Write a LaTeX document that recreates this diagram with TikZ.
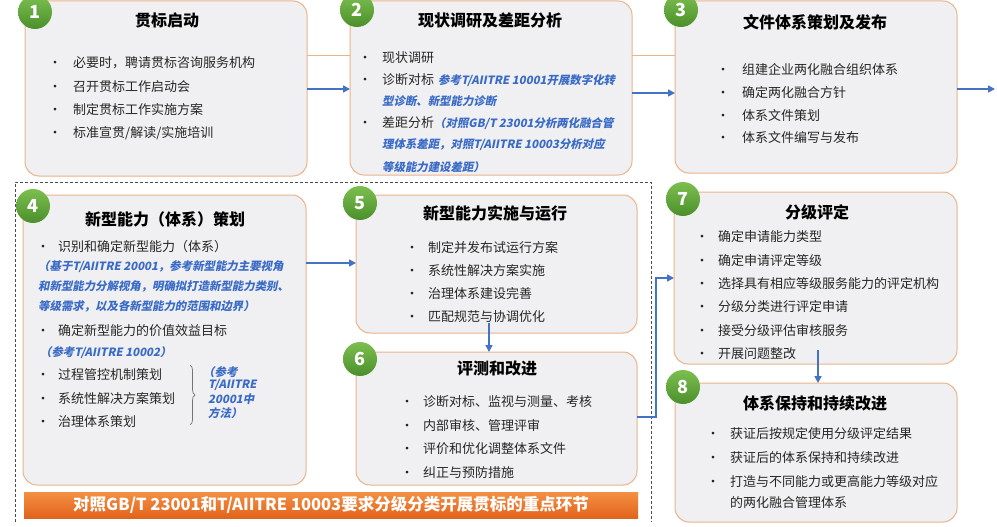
\documentclass[tikz,border=0pt]{standalone}
\usepackage{fontspec}
\setmainfont{Noto Sans CJK SC}
\newfontfamily\slfont{Noto Sans CJK SC}[FakeSlant=0.2]
\usetikzlibrary{arrows.meta,decorations.pathreplacing}
\definecolor{boxfill}{HTML}{F0F0F2}
\definecolor{boxline}{HTML}{E9B48A}
\definecolor{arrblue}{HTML}{4472C4}
\definecolor{txtblue}{HTML}{3A6BC6}
\definecolor{txtc}{HTML}{262626}
\definecolor{gtop}{HTML}{7CBF4F}
\definecolor{gbot}{HTML}{4B8F2C}
\definecolor{otop}{HTML}{F39043}
\definecolor{obot}{HTML}{E2631B}
\newcommand\bul[1][17pt]{\makebox[#1][l]{\makebox[0pt][c]{•}}}
\newcommand\bl[1]{{\slfont\bfseries\color{txtblue}\fontsize{11.4}{12}\selectfont #1}}
\begin{document}
\begin{tikzpicture}[x=1pt,y=-1pt,
  box/.style={draw=boxline,fill=boxfill,line width=1pt,rounded corners=14pt,inner sep=0pt,outer sep=0pt},
  circ/.style={circle,minimum size=34pt,inner sep=0pt,top color=gtop,bottom color=gbot,draw=none,text=white,font=\bfseries\fontsize{18}{18}\selectfont},
  ttl/.style={inner sep=0pt,text=black,font=\bfseries\fontsize{16}{16}\selectfont},
  txt/.style={anchor=west,inner sep=0pt,text=txtc,font=\fontsize{13}{13}\selectfont},
  arr/.style={draw=arrblue,line width=1.6pt,-{Triangle[length=7pt,width=7pt]}},
  oline/.style={draw=boxline,line width=1pt},
  dline/.style={draw=black!70,line width=0.8pt,dash pattern=on 3pt off 2pt}]
\useasboundingbox (0,0) rectangle (997,527);
\fill[white] (0,0) rectangle (997,527);
% dashed group
\draw[dline] (15,522) -- (15,182) -- (651,182) -- (651,522);
% boxes
\node[box,minimum width=282pt,minimum height=175pt] (b1) at (166,88.5) {};
\node[box,minimum width=282pt,minimum height=174pt] (b2) at (491,88) {};
\node[box,minimum width=282pt,minimum height=172pt] (b3) at (816,87) {};
\node[box,minimum width=283pt,minimum height=290pt] (b4) at (164.5,340) {};
\node[box,minimum width=281pt,minimum height=138pt] (b5) at (496.5,264) {};
\node[box,minimum width=281pt,minimum height=133pt] (b6) at (496.5,418.5) {};
\node[box,minimum width=283pt,minimum height=172pt] (b7) at (815.5,278) {};
\node[box,minimum width=282pt,minimum height=139pt] (b8) at (816,452.5) {};
% banner
\node[minimum width=614pt,minimum height=26pt,inner sep=0pt,top color=otop,bottom color=obot,text=white,font=\bfseries\fontsize{16.5}{16.5}\selectfont] (ban) at (331,505) {对照GB/T 23001和T/AIITRE 10003要求分级分类开展贯标的重点环节};
% thin orange links
\draw[oline] (b1.east|-0,56) -- (b2.west|-0,56);
\draw[oline] (b2.east|-0,56) -- (b3.west|-0,56);
% circles
\node[circ] (c1) at (35,12) {1};
\node[circ] (c2) at (357,10) {2};
\node[circ] (c3) at (681,10) {3};
\node[circ] (c4) at (33,206) {4};
\node[circ] (c5) at (360,203) {5};
\node[circ] (c6) at (360,359) {6};
\node[circ] (c7) at (683,199) {7};
\node[circ] (c8) at (683,387) {8};
% box 1
\node[ttl] (t1) at (167,20) {贯标启动};
\node[txt] (t1a) at (55,63) {\bul[18pt]必要时，聘请贯标咨询服务机构};
\node[txt] (t1b) at (55,87) {\bul[18pt]召开贯标工作启动会};
\node[txt] (t1c) at (55,110) {\bul[18pt]制定贯标工作实施方案};
\node[txt] (t1d) at (55,133) {\bul[18pt]标准宣贯/解读/实施培训};
% box 2
\node[ttl] (t2) at (490,20) {现状调研及差距分析};
\node[txt] (t2a) at (365,58) {\bul{}现状调研};
\node[txt] (t2b) at (365,80) {\bul{}诊断对标\hspace{4pt}\bl{参考T/AIITRE 10001开展数字化转}};
\node[txt] (t2c) at (382,101) {\bl{型诊断、新型能力诊断}};
\node[txt] (t2d) at (365,123) {\bul{}差距分析\bl{（对照GB/T 23001分析两化融合管}};
\node[txt] (t2e) at (382,145) {\bl{理体系差距，对照T/AIITRE 10003分析对应}};
\node[txt] (t2f) at (382,167) {\bl{等级能力建设差距）}};
% box 3
\node[ttl] (t3) at (815,22) {文件体系策划及发布};
\node[txt] (t3a) at (723,70) {\bul[19pt]组建企业两化融合组织体系};
\node[txt] (t3b) at (723,93) {\bul[19pt]确定两化融合方针};
\node[txt] (t3c) at (723,116) {\bul[19pt]体系文件策划};
\node[txt] (t3d) at (723,138) {\bul[19pt]体系文件编写与发布};
% box 4
\node[ttl] (t4) at (165,219) {新型能力（体系）策划};
\node[txt] (t4a) at (43,247) {\bul[15pt]识别和确定新型能力（体系）};
\node[txt] (t4b) at (38,267) {\bl{（基于T/AIITRE 20001，参考新型能力主要视角}};
\node[txt] (t4c) at (38,286) {\bl{和新型能力分解视角，明确拟打造新型能力类别、}};
\node[txt] (t4d) at (38,306) {\bl{等级需求，以及各新型能力的范围和边界）}};
\node[txt] (t4e) at (43,331) {\bul[15pt]确定新型能力的价值效益目标};
\node[txt] (t4f) at (40,353) {\bl{（参考T/AIITRE 10002）}};
\node[txt] (t4g) at (43,375) {\bul[15pt]过程管控机制策划};
\node[txt] (t4h) at (43,399) {\bul[15pt]系统性解决方案策划};
\node[txt] (t4i) at (43,422) {\bul[15pt]治理体系策划};
\draw[draw=black!55,line width=0.7pt,decorate,decoration={brace,amplitude=5pt}] (190,365) -- (190,425);
\node[txt] (t4j) at (203,372) {\bl{（参考}};
\node[txt] (t4k) at (208,385) {\bl{T/AIITRE}};
\node[txt] (t4l) at (208,399) {\bl{20001中}};
\node[txt] (t4m) at (208,413) {\bl{方法）}};
% box 5
\node[ttl] (t5) at (495,213) {新型能力实施与运行};
\node[txt] (t5a) at (412,248) {\bul[16pt]制定并发布试运行方案};
\node[txt] (t5b) at (412,271) {\bul[16pt]系统性解决方案实施};
\node[txt] (t5c) at (412,294) {\bul[16pt]治理体系建设完善};
\node[txt] (t5d) at (412,317) {\bul[16pt]匹配规范与协调优化};
% box 6
\node[ttl] (t6) at (497,368) {评测和改进};
\node[txt] (t6a) at (407,402) {\bul[16pt]诊断对标、监视与测量、考核};
\node[txt] (t6b) at (407,426) {\bul[16pt]内部审核、管理评审};
\node[txt] (t6c) at (407,449) {\bul[16pt]评价和优化调整体系文件};
\node[txt] (t6d) at (407,473) {\bul[16pt]纠正与预防措施};
% box 7
\node[ttl] (t7) at (817,212) {分级评定};
\node[txt] (t7a) at (702,237) {\bul[16pt]确定申请能力类型};
\node[txt] (t7b) at (702,261) {\bul[16pt]确定申请评定等级};
\node[txt] (t7c) at (702,284) {\bul[16pt]选择具有相应等级服务能力的评定机构};
\node[txt] (t7d) at (702,307) {\bul[16pt]分级分类进行评定申请};
\node[txt] (t7e) at (702,331) {\bul[16pt]接受分级评估审核服务};
\node[txt] (t7f) at (702,354) {\bul[16pt]开展问题整改};
% box 8
\node[ttl] (t8) at (815,403) {体系保持和持续改进};
\node[txt] (t8a) at (713,434) {\bul[17pt]获证后按规定使用分级评定结果};
\node[txt] (t8b) at (713,458) {\bul[17pt]获证后的体系保持和持续改进};
\node[txt] (t8c) at (713,482) {\bul[17pt]打造与不同能力或更高能力等级对应};
\node[txt] (t8d) at (730,503) {的两化融合管理体系};
% connectors
\coordinate (out) at (995,89);
\draw[arr] (b1.east|-0,89) -- (b2.west|-0,89);
\draw[arr] (b2.east|-0,93) -- (b3.west|-0,93);
\draw[arr] (b3.east|-0,89) -- (out);
\draw[arr] (b4.east|-0,263) -- (b5.west|-0,263);
\draw[arr] ([yshift=10pt]b5.south-|489,0) -- (b6.north-|489,0);
\draw[arr] (b6.east|-0,417) -- (656,417) |- (b7.west|-0,278);
\draw[arr] ([yshift=14pt]b7.south-|818,0) -- (b8.north-|818,0);
\end{tikzpicture}
\end{document}
